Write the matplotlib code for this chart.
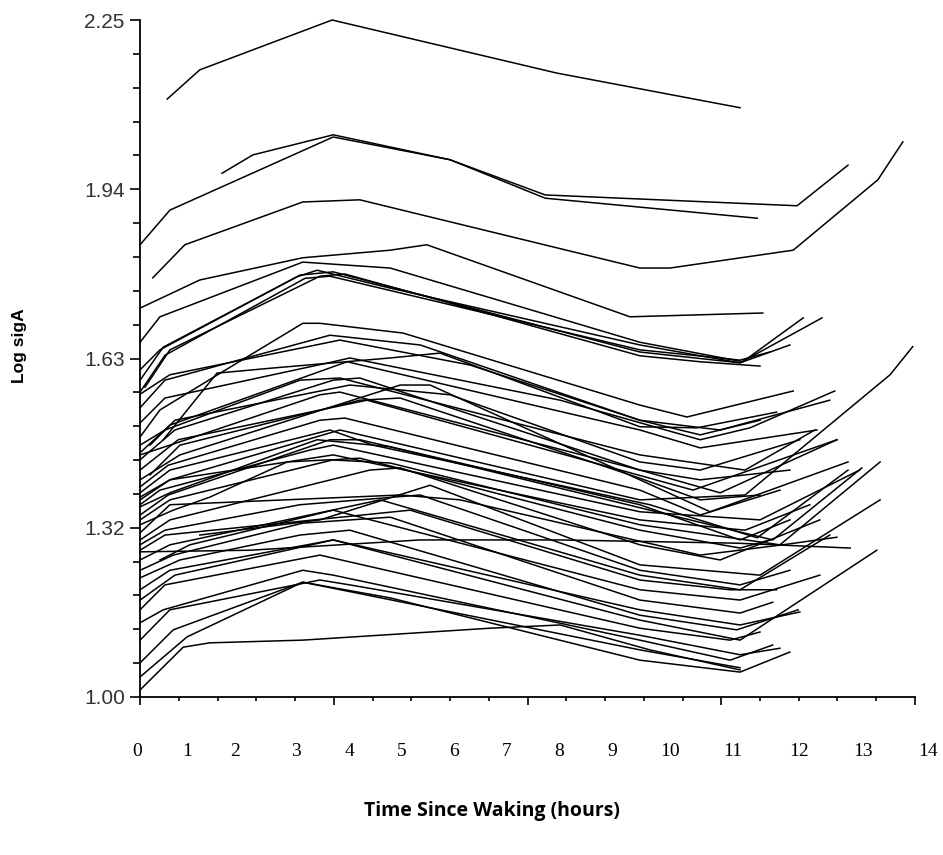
import matplotlib
matplotlib.use("Agg")
import matplotlib.pyplot as plt
import numpy as np

# each subject: time since waking (hours) and log sigA readings
subjects = [
    ([0.49, 1.08, 3.47, 7.53, 10.84], [2.104, 2.158, 2.25, 2.152, 2.088]),
    ([1.48, 2.04, 3.49, 5.6, 7.32, 11.15], [1.967, 2.001, 2.038, 1.992, 1.921, 1.884]),
    ([0, 0.54, 3.49, 5.6, 7.32, 11.87, 12.79], [1.835, 1.899, 2.034, 1.992, 1.927, 1.907, 1.982]),
    ([0.23, 0.81, 2.94, 3.97, 9.03, 9.57, 11.8, 13.33, 13.78], [1.774, 1.835, 1.914, 1.918, 1.792, 1.792, 1.825, 1.955, 2.025]),
    ([0, 1.08, 2.94, 4.52, 5.18, 8.85, 11.25], [1.718, 1.77, 1.811, 1.825, 1.835, 1.702, 1.709]),
    ([0, 0.36, 2.94, 4.52, 9.03, 10.89, 11.98], [1.655, 1.702, 1.803, 1.792, 1.655, 1.619, 1.70]),
    ([0, 0.42, 2.84, 3.2, 4.52, 9.03, 10.84, 12.32], [1.585, 1.646, 1.776, 1.788, 1.755, 1.65, 1.617, 1.70]),
    ([0, 0.36, 2.89, 3.49, 9.03, 10.84, 11.74], [1.604, 1.641, 1.779, 1.785, 1.637, 1.617, 1.65]),
    ([0.09, 0.54, 3.25, 3.7, 9.03, 10.12, 11.2], [1.572, 1.641, 1.777, 1.781, 1.63, 1.619, 1.611]),
    ([0, 0.36, 1.45, 2.94, 3.25, 4.75, 9.03, 9.88, 11.8], [1.48, 1.53, 1.598, 1.69, 1.69, 1.672, 1.539, 1.517, 1.565]),
    ([0.42, 1.39, 2.35, 4.52, 5.42, 9.03, 10.06, 11.5], [1.475, 1.598, 1.607, 1.626, 1.635, 1.499, 1.497, 1.526]),
    ([0, 0.45, 3.49, 3.79, 7.59, 10.12, 11.02, 12.55], [1.506, 1.552, 1.619, 1.626, 1.548, 1.475, 1.497, 1.565]),
    ([0, 0.54, 3.74, 9.03, 10.12, 12.23], [1.451, 1.502, 1.619, 1.493, 1.46, 1.493]),
    ([0, 0.69, 4.1, 9.99, 12.59], [1.419, 1.475, 1.548, 1.382, 1.475]),
    ([0, 0.63, 3.49, 3.97, 9.03, 10.48, 12.59], [1.438, 1.493, 1.585, 1.589, 1.419, 1.377, 1.475]),
    ([0, 0.72, 4.7, 5.24, 9.03, 10.3, 12.79], [1.401, 1.447, 1.576, 1.576, 1.401, 1.342, 1.434]),
    ([0, 0.54, 3.43, 4.21, 9.21, 11.15, 12.79], [1.377, 1.419, 1.493, 1.465, 1.355, 1.294, 1.419]),
    ([0, 0.54, 2.84, 3.2, 4.52, 9.21, 11.43, 13.04], [1.351, 1.377, 1.462, 1.475, 1.462, 1.345, 1.29, 1.423]),
    ([0, 0.6, 1.26, 2.66, 3.43, 4.52, 9.03, 11.56, 13.37], [1.318, 1.345, 1.369, 1.434, 1.438, 1.432, 1.318, 1.281, 1.434]),
    ([0, 0.51, 3.43, 3.97, 9.03, 10.84, 11.74], [1.336, 1.373, 1.475, 1.475, 1.355, 1.29, 1.327]),
    ([0, 0.51, 3.25, 3.7, 9.03, 10.12, 11.56], [1.388, 1.428, 1.511, 1.515, 1.382, 1.336, 1.382]),
    ([0, 0.54, 3.49, 9.03, 10.93, 12.1], [1.364, 1.401, 1.447, 1.327, 1.308, 1.355]),
    ([0.18, 0.63, 3.79, 5.6, 9.03, 10.12, 11.92], [1.465, 1.511, 1.576, 1.558, 1.434, 1.419, 1.475]),
    ([0, 0.54, 4.15, 4.7, 9.03, 10.48, 12.28], [1.29, 1.327, 1.419, 1.423, 1.281, 1.253, 1.327]),
    ([0, 0.54, 4.34, 9.03, 10.84, 12.46], [1.253, 1.281, 1.364, 1.225, 1.198, 1.299]),
    ([1.08, 3.25, 5.24, 9.03, 11.2, 13.37], [1.299, 1.327, 1.391, 1.244, 1.225, 1.364]),
    ([0, 0.54, 3.61, 5.96, 9.03, 10.48, 12.46], [1.559, 1.595, 1.659, 1.613, 1.511, 1.493, 1.548]),
    ([0, 0.54, 4.7, 5.78, 10.12, 11.61, 12.59], [1.303, 1.355, 1.373, 1.364, 1.262, 1.281, 1.295]),
    ([0, 1.99, 5.06, 7.59, 10.78, 12.83], [1.268, 1.271, 1.29, 1.29, 1.284, 1.275]),
    ([0, 0.45, 4.88, 9.03, 10.66, 11.5], [1.271, 1.299, 1.345, 1.216, 1.198, 1.198]),
    ([0, 0.6, 2.94, 4.52, 9.03, 10.84, 11.43], [1.234, 1.262, 1.321, 1.332, 1.179, 1.155, 1.175]),
    ([0, 0.72, 2.89, 3.79, 9.03, 10.78, 11.89], [1.22, 1.253, 1.299, 1.308, 1.151, 1.124, 1.161]),
    ([0, 0.63, 3.49, 9.03, 10.84, 13.31], [1.179, 1.225, 1.29, 1.142, 1.105, 1.271]),
    ([0, 0.42, 2.94, 3.49, 9.03, 10.66, 11.43], [1.137, 1.161, 1.234, 1.225, 1.105, 1.068, 1.096]),
    ([0, 0.6, 2.94, 4.52, 9.03, 10.84, 11.74], [1.063, 1.124, 1.212, 1.183, 1.068, 1.046, 1.083]),
    ([0, 0.78, 1.26, 2.94, 6.32, 7.59, 9.21, 10.84], [1.013, 1.092, 1.10, 1.105, 1.127, 1.133, 1.087, 1.05]),
    ([0, 0.85, 2.94, 9.03, 10.84], [1.037, 1.111, 1.212, 1.087, 1.054]),
    ([0, 0.45, 2.98, 3.43, 9.03, 10.84, 11.38], [1.563, 1.631, 1.773, 1.777, 1.641, 1.622, 1.637]),
    ([0, 0.45, 2.89, 3.61, 9.03, 10.93, 12.19], [1.465, 1.493, 1.585, 1.589, 1.447, 1.419, 1.493]),
    ([0, 0.54, 3.49, 3.97, 9.03, 10.84, 11.38], [1.327, 1.364, 1.438, 1.441, 1.308, 1.275, 1.29]),
    ([0, 0.54, 3.49, 9.03, 10.84, 11.92], [1.198, 1.234, 1.29, 1.161, 1.133, 1.157]),
    ([0, 0.54, 3.25, 3.79, 9.03, 10.84, 11.56], [1.105, 1.161, 1.216, 1.207, 1.114, 1.078, 1.09]),
    ([0.18, 0.72, 3.97, 4.7, 9.03, 10.12, 11.2], [1.41, 1.465, 1.548, 1.552, 1.404, 1.364, 1.373]),
    ([0, 0.36, 3.07, 3.49, 9.03, 11.2, 13.0], [1.355, 1.382, 1.456, 1.465, 1.342, 1.327, 1.419]),
    ([0, 0.45, 2.89, 5.06, 9.03, 10.84, 11.74], [1.281, 1.308, 1.355, 1.373, 1.234, 1.207, 1.234]),
    ([0, 0.45, 3.25, 9.03, 10.66, 11.2], [1.161, 1.207, 1.262, 1.127, 1.105, 1.12]),
    ([0, 0.45, 3.43, 5.06, 9.03, 10.12, 11.2], [1.534, 1.585, 1.668, 1.65, 1.511, 1.484, 1.511]),
    ([0, 0.54, 3.25, 3.61, 9.03, 10.12, 11.74], [1.447, 1.465, 1.558, 1.563, 1.419, 1.401, 1.419]),
    ([0.36, 0.9, 3.49, 9.03, 10.84, 12.28], [1.253, 1.281, 1.345, 1.198, 1.179, 1.225]),
    ([0, 0.54, 3.61, 9.03, 10.93, 13.55, 13.96], [1.369, 1.401, 1.493, 1.364, 1.373, 1.595, 1.647]),
]

yticks = [1.00, 1.3125, 1.625, 1.9375, 2.25]
ytick_labels = ["1.00", "1.32", "1.63", "1.94", "2.25"]
hour_labels = [str(i) for i in range(15)]
hour_label_x = [-0.05, 0.85, 1.72, 2.82, 3.78, 4.73, 5.67, 6.63, 7.57, 8.53, 9.57, 10.71, 11.9, 13.06, 14.23]

fig = plt.figure(figsize=(9.43, 8.55), dpi=100)
ax = fig.add_axes([0.1485, 0.1848, 0.8218, 0.7918])

for t, v in subjects:
    ax.plot(t, v, color="black", lw=1.1, solid_joinstyle="miter", clip_on=False)

ax.set_xlim(0, 14)
ax.set_ylim(1.0, 2.25)
for s in ["top", "right"]:
    ax.spines[s].set_visible(False)
for s in ["left", "bottom"]:
    ax.spines[s].set_linewidth(1.3)

ax.set_yticks(yticks)
ax.set_yticklabels(ytick_labels, family="Liberation Sans", fontsize=15, color="#333333")
ax.set_yticks(np.arange(1.0, 2.26, 0.0625), minor=True)
ax.set_xticks(np.arange(0, 14.01, 3.5))
ax.set_xticks(np.arange(0, 14.01, 0.7), minor=True)
ax.set_xticklabels([])
ax.tick_params(axis="y", which="major", length=7.5, width=1.2, pad=3.5)
ax.tick_params(axis="y", which="minor", length=5, width=1.2)
ax.tick_params(axis="x", which="major", length=6, width=1.2)
ax.tick_params(axis="x", which="minor", length=3, width=1.2)

for x, lab in zip(hour_label_x, hour_labels):
    ax.text(x, -0.081, lab, transform=ax.get_xaxis_transform(), ha="center", va="center",
            family="Liberation Serif", fontsize=14)

fig.text(0.021, 0.596, "Log sigA", rotation=90, ha="center", va="center",
         family="Liberation Sans", fontweight="bold", fontsize=12.5)
fig.text(0.522, 0.052, "Time Since Waking (hours)", ha="center", va="center",
         family="Open Sans", fontweight="bold", fontsize=14)

fig.savefig("out.png", dpi=100)
